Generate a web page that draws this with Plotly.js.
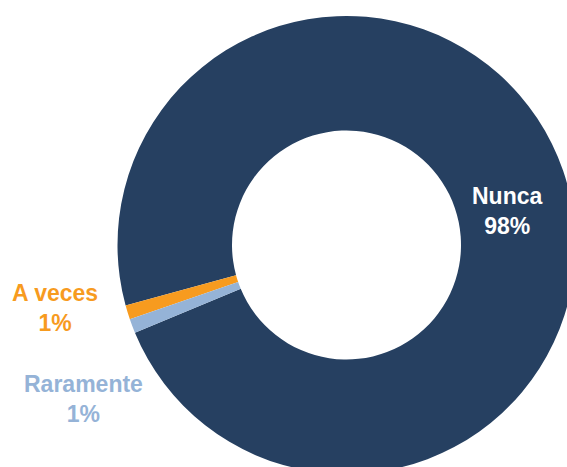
<!DOCTYPE html>
<html>
<head>
<meta charset="utf-8">
<script src="https://cdn.plot.ly/plotly-3.0.1.min.js"></script>
<style>
  html, body { margin: 0; padding: 0; overflow: hidden; background: #ffffff; }
  #chart { width: 693px; height: 490px; }
</style>
</head>
<body>
<div id="chart"></div>
<script>
// Data
const categories = ["Nunca", "A veces", "Raramente"];
const percentages = [98, 1, 1];
const sliceColors = ["#264061", "#F79B1F", "#95B3D7"];
const labelColors = ["#FFFFFF", "#F79B1F", "#95B3D7"];

// Label positions (paper fractions) — layout only
const labelPos = [
  {x: 0.7330, y: 0.5694},
  {x: 0.0794, y: 0.3714},
  {x: 0.1202, y: 0.1847}
];

const trace = {
  type: "pie",
  labels: categories,
  values: percentages,
  sort: false,
  direction: "counterclockwise",
  rotation: -105.3,
  hole: 0.5,
  marker: { colors: sliceColors, line: { width: 0 } },
  textinfo: "none",
  hoverinfo: "skip",
  domain: { x: [0.16955, 0.83045], y: [0.03265, 0.96735] }
};

const annotations = categories.map((c, i) => ({
  xref: "paper", yref: "paper",
  x: labelPos[i].x, y: labelPos[i].y,
  xanchor: "center", yanchor: "middle",
  text: c + "<br>" + percentages[i] + "%",
  showarrow: false,
  align: "center",
  font: { family: "Liberation Sans, Arial, sans-serif", size: 23, color: labelColors[i], weight: "bold" }
}));

const layout = {
  width: 693, height: 490,
  margin: { l: 0, r: 0, t: 0, b: 0 },
  paper_bgcolor: "#ffffff",
  showlegend: false,
  annotations: annotations
};

Plotly.newPlot("chart", [trace], layout, { staticPlot: true, displayModeBar: false });
</script>
</body>
</html>
